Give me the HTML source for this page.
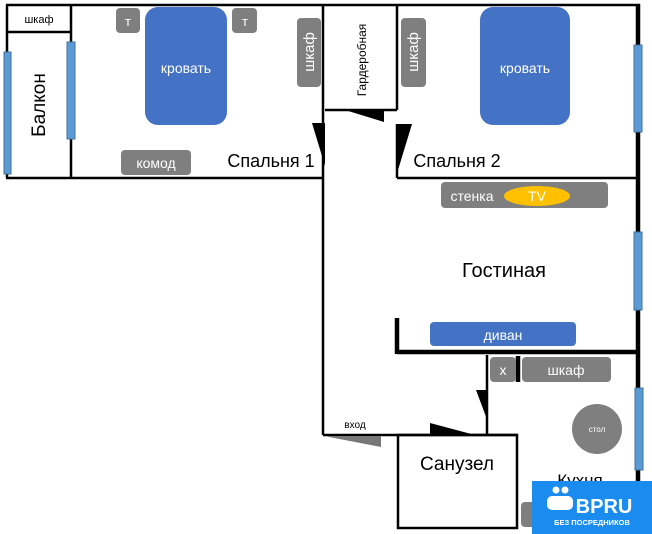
<!DOCTYPE html>
<html><head><meta charset="utf-8"><style>
html,body{margin:0;padding:0;background:#fff}
svg{display:block;font-family:"Liberation Sans",sans-serif}
</style></head><body>
<svg width="652" height="534" viewBox="0 0 652 534" xmlns="http://www.w3.org/2000/svg">
<rect width="652" height="534" fill="#fff"/>
<g stroke="#000" stroke-width="2.5" fill="none">
<line x1="6" y1="5" x2="640" y2="5"/>
<line x1="7" y1="5" x2="7" y2="178"/>
<line x1="71" y1="5" x2="71" y2="178"/>
<line x1="6" y1="32" x2="71" y2="32"/>
<line x1="6" y1="178" x2="323" y2="178"/>
<line x1="323" y1="5" x2="323" y2="435"/>
<line x1="325" y1="110" x2="397" y2="110"/>
<line x1="397" y1="5" x2="397" y2="110"/>
<line x1="397" y1="124" x2="397" y2="178"/>
<line x1="397" y1="178" x2="638" y2="178"/>
<line x1="323" y1="435" x2="517" y2="435"/>
<line x1="487" y1="355" x2="487" y2="435"/>
<rect x="398" y="435" width="119" height="93"/>
</g>
<g stroke="#000" stroke-width="4.5">
<line x1="638" y1="4" x2="638" y2="530"/>
<line x1="397" y1="352" x2="640" y2="352"/>
<line x1="397" y1="318" x2="397" y2="354"/>
<line x1="518" y1="356" x2="518" y2="382"/>
</g>
<polygon points="312,123 325,123 325,166" fill="#000"/>
<polygon points="345,110 384,110 384,122" fill="#000"/>
<polygon points="398,124 412,124 398,170" fill="#000"/>
<polygon points="476,390 488,390 488,422" fill="#000"/>
<polygon points="430,423 475,435 430,435" fill="#000"/>
<polygon points="324,436 381,436 381,447" fill="#777"/>
<g fill="#5b9bd5" stroke="#41719c" stroke-width="1">
<rect x="4" y="52" width="7" height="122"/>
<rect x="67" y="42" width="8" height="97"/>
<rect x="634" y="45" width="8" height="87"/>
<rect x="634" y="232" width="8" height="78"/>
<rect x="635" y="388" width="8" height="82"/>
</g>
<g fill="#7f7f7f">
<rect x="116" y="8" width="24" height="25" rx="4"/>
<rect x="232" y="8" width="25" height="25" rx="4"/>
<rect x="297" y="18" width="24" height="69" rx="4"/>
<rect x="121" y="150" width="70" height="25" rx="4"/>
<rect x="401" y="18" width="25" height="69" rx="4"/>
<rect x="441" y="182" width="167" height="26" rx="4"/>
<rect x="490" y="357" width="26" height="25" rx="4"/>
<rect x="522" y="357" width="89" height="25" rx="4"/>
<circle cx="597" cy="429" r="25"/>
<rect x="521" y="502" width="26" height="25" rx="4"/>
</g>
<g fill="#4472c4">
<rect x="145" y="7" width="82" height="118" rx="13"/>
<rect x="480" y="7" width="90" height="118" rx="13"/>
<rect x="430" y="322" width="146" height="24" rx="4"/>
</g>
<ellipse cx="537" cy="196" rx="33" ry="10" fill="#ffc000"/>
<g fill="#fff" font-size="14" text-anchor="middle">
<text x="186" y="73">кровать</text>
<text x="525" y="73">кровать</text>
<text x="128" y="26" font-size="13">т</text>
<text x="245" y="26" font-size="13">т</text>
<text x="156" y="168">комод</text>
<text x="503" y="340">диван</text>
<text x="472" y="201">стенка</text>
<text x="537" y="201">TV</text>
<text x="503" y="375">х</text>
<text x="566" y="375">шкаф</text>
<text x="597" y="432" font-size="8">стол</text>
<text transform="translate(314,52) rotate(-90)" font-size="15">шкаф</text>
<text transform="translate(418,52) rotate(-90)" font-size="15">шкаф</text>
</g>
<g fill="#000" text-anchor="middle">
<text x="39" y="23" font-size="11">шкаф</text>
<text transform="translate(45,105) rotate(-90)" font-size="19">Балкон</text>
<text transform="translate(366,60) rotate(-90)" font-size="12">Гардеробная</text>
<text x="271" y="167" font-size="18">Спальня 1</text>
<text x="457" y="167" font-size="18">Спальня 2</text>
<text x="504" y="277" font-size="20">Гостиная</text>
<text x="355" y="428" font-size="10">вход</text>
<text x="457" y="470" font-size="19">Санузел</text>
<text x="580" y="486" font-size="17">Кухня</text>
</g>
<rect x="532" y="481" width="120" height="53" fill="#1a8cf0"/>
<g fill="#fff">
<circle cx="556" cy="490" r="3.5"/><circle cx="565" cy="490" r="3.5"/>
<rect x="547" y="496" width="26" height="14" rx="5"/>
<text x="604" y="513" font-size="20" font-weight="bold" text-anchor="middle">BPRU</text>
<text x="592" y="525" font-size="7.5" font-weight="bold" text-anchor="middle">БЕЗ ПОСРЕДНИКОВ</text>
</g>
</svg>
</body></html>
